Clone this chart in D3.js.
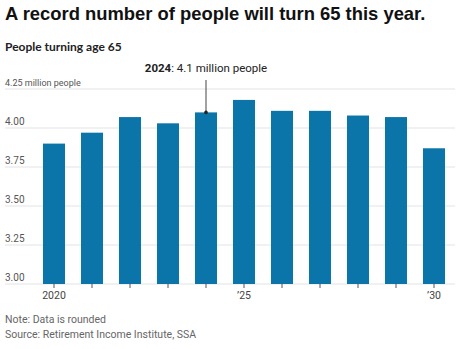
<!DOCTYPE html>
<html>
<head>
<meta charset="utf-8">
<script src="https://cdn.jsdelivr.net/npm/d3@7"></script>
<style>
  html, body { margin: 0; padding: 0; background: #fff; }
  svg { display: block; }
</style>
</head>
<body>
<svg id="chart" width="468" height="349"></svg>
<script>
// People turning 65 each year, in millions
const years = [2020, 2021, 2022, 2023, 2024, 2025, 2026, 2027, 2028, 2029, 2030];
const peopleMillions = [3.9, 3.97, 4.07, 4.03, 4.1, 4.18, 4.11, 4.11, 4.08, 4.07, 3.87];
const yTicks = [3.0, 3.25, 3.5, 3.75, 4.0, 4.25];
const xTickLabels = {2020: "2020", 2025: "\u201925", 2030: "\u201930"};
const highlightYear = 2024;

const svg = d3.select("#chart");
const sans = "'Liberation Sans', Arial, sans-serif";
const cond = "Roboto, 'Noto Sans', sans-serif";

// Title and subtitle
svg.append("text").attr("x", 5).attr("y", 20)
  .attr("font-family", sans).attr("font-weight", "bold").attr("font-size", 18.4)
  .attr("fill", "#111").text("A record number of people will turn 65 this year.");
svg.append("text").attr("x", 5).attr("y", 51)
  .attr("font-family", "Lato, " + sans).attr("font-weight", "bold").attr("font-size", 12)
  .attr("fill", "#222").text("People turning age 65");

const x = d3.scaleBand().domain(years).range([35, 453]).paddingInner(0.42).paddingOuter(0.21);
const y = d3.scaleLinear().domain([3.0, 4.25]).range([284, 89]);

// Horizontal gridlines with labels sitting above them
const grid = svg.append("g");
grid.selectAll("line").data(yTicks).join("line")
  .attr("x1", 5).attr("x2", 455)
  .attr("y1", d => y(d)).attr("y2", d => y(d))
  .attr("stroke", "#e3e3e3").attr("stroke-width", 1);
grid.selectAll("text").data(yTicks).join("text")
  .attr("x", 5).attr("y", d => y(d) - 3)
  .attr("font-family", cond).attr("font-size", d => d === 4.25 ? 9 : 10)
  .attr("fill", "#555")
  .text(d => d === 4.25 ? "4.25 million people" : d3.format(".2f")(d));

// Bars
svg.append("g").selectAll("rect").data(years).join("rect")
  .attr("x", d => x(d))
  .attr("width", x.bandwidth())
  .attr("y", (d, i) => y(peopleMillions[i]))
  .attr("height", (d, i) => y(3.0) - y(peopleMillions[i]))
  .attr("fill", "#0b74a8");

// Bottom axis with small ticks at every year
const xAxis = d3.axisBottom(x).tickSize(4).tickPadding(4)
  .tickFormat(d => xTickLabels[d] || "");
const ax = svg.append("g").attr("transform", `translate(0,${y(3.0)})`).call(xAxis);
ax.select(".domain").remove();
ax.selectAll(".tick line").attr("stroke", "#555");
ax.selectAll(".tick text").attr("font-family", cond).attr("font-size", 10.5).attr("fill", "#444");

// Annotation for the highlighted year
const hi = years.indexOf(highlightYear);
const cx = x(highlightYear) + x.bandwidth() / 2;
svg.append("line").attr("x1", cx).attr("x2", cx)
  .attr("y1", 80).attr("y2", y(peopleMillions[hi]))
  .attr("stroke", "#444").attr("stroke-width", 1);
svg.append("circle").attr("cx", cx).attr("cy", y(peopleMillions[hi])).attr("r", 1.8).attr("fill", "#222");
const ann = svg.append("text").attr("x", cx).attr("y", 72).attr("text-anchor", "middle")
  .attr("font-family", cond).attr("font-size", 11.5).attr("fill", "#222");
ann.append("tspan").attr("font-weight", "bold").text(highlightYear);
ann.append("tspan").text(": " + peopleMillions[hi] + " million people");

// Footnotes
svg.append("text").attr("x", 5).attr("y", 323)
  .attr("font-family", cond).attr("font-size", 10.5).attr("fill", "#666").text("Note: Data is rounded");
svg.append("text").attr("x", 5).attr("y", 338)
  .attr("font-family", cond).attr("font-size", 10.5).attr("fill", "#666").text("Source: Retirement Income Institute, SSA");
</script>
</body>
</html>
